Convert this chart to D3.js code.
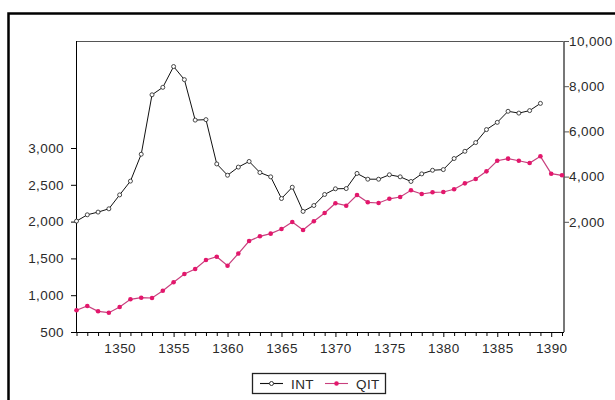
<!DOCTYPE html>
<html>
<head>
<meta charset="utf-8">
<script src="https://cdn.jsdelivr.net/npm/d3@7"></script>
<style>
  html, body { margin: 0; padding: 0; background: #fff; }
  svg { display: block; }
  text { font-family: "Liberation Sans", Arial, sans-serif; fill: #2a2a2a; }
</style>
</head>
<body>
<svg id="chart" width="615" height="400"></svg>
<script>
// Years of the series
const years = d3.range(1346, 1392);

// INT (right axis), 1346–1389
const intValues = [
  2030, 2310, 2430, 2575, 3190, 3800, 4990, 7620, 7950, 8870,
  8290, 6500, 6520, 4560, 4060, 4420, 4670, 4180, 3990, 3030,
  3530, 2460, 2720, 3210, 3460, 3470, 4140, 3885, 3885, 4080,
  3990, 3785, 4120, 4280, 4310, 4800, 5120, 5505, 6080, 6400,
  6890, 6810, 6920, 7240
];

// QIT (left axis), 1346–1391
const qitValues = [
  795, 853, 781, 762, 840, 944, 966, 962, 1061, 1175,
  1288, 1356, 1478, 1523, 1401, 1566, 1736, 1800, 1836, 1900,
  1995, 1886, 2004, 2117, 2249, 2216, 2361, 2262, 2253, 2310,
  2334, 2425, 2375, 2398, 2402, 2439, 2520, 2579, 2683, 2827,
  2855, 2827, 2796, 2887, 2651, 2629
];

const leftTicks = [500, 1000, 1500, 2000, 2500, 3000];
const rightTicks = [2000, 4000, 6000, 8000, 10000];
const yearLabels = [1350, 1355, 1360, 1365, 1370, 1375, 1380, 1385, 1390];
const seriesNames = ["INT", "QIT"];

const svg = d3.select("#chart");
const fmt = d3.format(",");

// Plot box
const L = 76, R = 564, T = 41, B = 332;

const x = d3.scaleLinear().domain([1346, 1391]).range([76.5, 562]);
const yLeft = d3.scaleLinear().domain([500, 3000]).range([B, 148]);
const yRight = d3.scaleLinear().domain([0, 10000]).range([267, T]);

// Outer frame
svg.append("rect")
  .attr("x", 8.5).attr("y", 13.5)
  .attr("width", 640).attr("height", 420)
  .attr("fill", "none").attr("stroke", "#000").attr("stroke-width", 2.5);

// Top border of the plot box
svg.append("line").attr("x1", L).attr("x2", R).attr("y1", T + 0.5).attr("y2", T + 0.5)
  .attr("stroke", "#555").attr("stroke-width", 1);

// Bottom axis with yearly ticks
const xAxis = d3.axisBottom(x)
  .tickValues(years)
  .tickSize(4)
  .tickFormat(d => yearLabels.includes(d) ? d : "");
const gx = svg.append("g").attr("transform", `translate(0,${B})`).call(xAxis);
gx.select(".domain").attr("d", `M${L},0.5H${R}`).attr("stroke", "#000");
gx.selectAll(".tick line").attr("stroke", "#000")
  .attr("y2", d => yearLabels.includes(d) ? 5 : 4);
gx.selectAll(".tick text")
  .attr("y", 11)
  .style("font-size", "13.5px").style("letter-spacing", "0.4px")
  .attr("fill", "#2a2a2a");

// Left axis (QIT)
const yAxisL = d3.axisLeft(yLeft).tickValues(leftTicks).tickSize(5).tickFormat(fmt);
const gl = svg.append("g").attr("transform", `translate(${L},0)`).call(yAxisL);
gl.select(".domain").attr("d", `M0.5,${T}V${B}`).attr("stroke", "#000");
gl.selectAll(".tick line").attr("stroke", "#000");
gl.selectAll(".tick text").attr("x", -12)
  .style("font-size", "13.5px").style("letter-spacing", "0.4px").attr("fill", "#2a2a2a");

// Right axis (INT)
const yAxisR = d3.axisRight(yRight).tickValues(rightTicks).tickSize(5).tickFormat(fmt);
const gr = svg.append("g").attr("transform", `translate(${R},0)`).call(yAxisR);
gr.select(".domain").attr("d", `M0,${T}V${B}`).attr("stroke", "#777").attr("stroke-width", 2);
gr.selectAll(".tick line").attr("stroke", "#555");
gr.selectAll(".tick text").attr("x", 5)
  .style("font-size", "13.5px").style("letter-spacing", "0.4px").attr("fill", "#2a2a2a");

// Series data
const intData = intValues.map((v, i) => ({ year: years[i], v }));
const qitData = qitValues.map((v, i) => ({ year: years[i], v }));

const lineInt = d3.line().x(d => x(d.year)).y(d => yRight(d.v));
const lineQit = d3.line().x(d => x(d.year)).y(d => yLeft(d.v));

const pink = "#e3176c";

svg.append("path").datum(qitData).attr("d", lineQit)
  .attr("fill", "none").attr("stroke", "#c8407e").attr("stroke-width", 1.2);
svg.append("g").selectAll("circle").data(qitData).join("circle")
  .attr("cx", d => x(d.year)).attr("cy", d => yLeft(d.v)).attr("r", 2.3)
  .attr("fill", pink);

svg.append("path").datum(intData).attr("d", lineInt)
  .attr("fill", "none").attr("stroke", "#111").attr("stroke-width", 1);
svg.append("g").selectAll("circle").data(intData).join("circle")
  .attr("cx", d => x(d.year)).attr("cy", d => yRight(d.v)).attr("r", 2)
  .attr("fill", "#fff").attr("stroke", "#333").attr("stroke-width", 0.9);

// Legend
const lg = svg.append("g");
lg.append("rect").attr("x", 252.5).attr("y", 373.5).attr("width", 133).attr("height", 20)
  .attr("fill", "#fff").attr("stroke", "#222").attr("stroke-width", 1.3);
const legendItems = [
  { name: seriesNames[0], x0: 260, color: "#111", fill: "#fff", stroke: "#333", r: 2 },
  { name: seriesNames[1], x0: 325, color: "#c8407e", fill: pink, stroke: "none", r: 2.3 }
];
legendItems.forEach(it => {
  lg.append("line").attr("x1", it.x0).attr("x2", it.x0 + 23).attr("y1", 383.5).attr("y2", 383.5)
    .attr("stroke", it.color).attr("stroke-width", 1.1);
  lg.append("circle").attr("cx", it.x0 + 11.5).attr("cy", 383.5).attr("r", it.r)
    .attr("fill", it.fill).attr("stroke", it.stroke);
  lg.append("text").attr("x", it.x0 + 31).attr("y", 388.5)
    .style("font-size", "13.5px").style("letter-spacing", "0.4px").text(it.name);
});
</script>
</body>
</html>
